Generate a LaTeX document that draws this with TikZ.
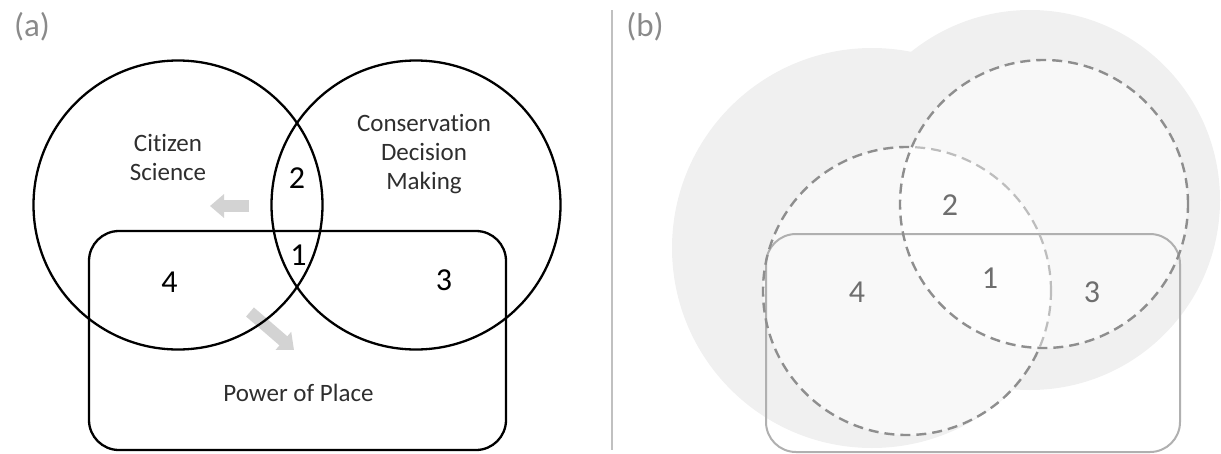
\documentclass[tikz,border=0pt]{standalone}
\usepackage{fontspec}
\setmainfont{Carlito}[Ligatures=NoCommon]
\usetikzlibrary{arrows.meta}
\definecolor{blobgray}{HTML}{F0F0F0}
\definecolor{innergray}{HTML}{F8F8F8}
\definecolor{lensgray}{HTML}{FDFDFD}
\definecolor{dashgray}{HTML}{8E8E8E}
\definecolor{lightdash}{HTML}{BDBDBD}
\definecolor{rectgray}{HTML}{B0B0B0}
\definecolor{labelgray}{HTML}{8A8A8A}
\definecolor{numgray}{HTML}{6E6E6E}
\definecolor{arrowgray}{HTML}{D3D3D3}
\definecolor{textdark}{HTML}{2E2E2E}
\tikzset{
  setline/.style={draw=black,line width=2.3pt},
  lbl/.style={font=\fontsize{25}{29}\selectfont,text=textdark,align=center,inner sep=0pt},
  numa/.style={font=\fontsize{32}{32}\selectfont,text=black,inner sep=0pt},
  numb/.style={font=\fontsize{32}{32}\selectfont,text=numgray,inner sep=0pt},
  panel/.style={font=\fontsize{33}{33}\selectfont,text=labelgray,inner sep=0pt},
  dashc/.style={draw=dashgray,line width=2.4pt,dash pattern=on 10pt off 6pt},
  lightdashc/.style={draw=lightdash,line width=2.2pt,dash pattern=on 10pt off 6pt},
  blockarrow/.style={draw=arrowgray,line width=12pt,-{Triangle[width=23pt,length=14pt]}}
}
\begin{document}
\begin{tikzpicture}[x=1pt,y=-1pt]
\useasboundingbox (0,0) rectangle (1221,453);
% ---------- panel (a) ----------
\node[panel] (pa) at (32,27) {(a)};
\coordinate (a1s) at (249,206);
\coordinate (a1e) at (210,206);
\coordinate (a2s) at (250,312);
\coordinate (a2e) at (294,350);
\draw[blockarrow] (a1s) -- (a1e);
\draw[blockarrow] (a2s) -- (a2e);
\draw[setline] (178,205) circle[radius=144.5pt];
\draw[setline] (416,205) circle[radius=144.5pt];
\draw[setline,rounded corners=30pt] (89,231) rectangle (506,450);
\node[lbl] (cs) at (168,157.5) {Citizen\\Science};
\node[lbl] (cdm) at (424,154) {Conservation\\Decision\\Making};
\node[lbl] (pop) at (298.5,393) {Power of Place};
\node[numa] (n2a) at (297,178) {2};
\node[numa] (n1a) at (298.5,255) {1};
\node[numa] (n4a) at (169.5,282) {4};
\node[numa] (n3a) at (444,280) {3};
% ---------- divider ----------
\coordinate (dtop) at (612,10);
\coordinate (dbot) at (612,450);
\draw[draw=rectgray!80,line width=1.6pt] (dtop) -- (dbot);
% ---------- panel (b) ----------
\node[panel] (pb) at (645,27) {(b)};
\fill[blobgray] (872,248) circle[radius=200pt];
\fill[blobgray] (1030,200) circle[radius=190pt];
\fill[innergray] (907,291) circle[radius=144pt];
\fill[innergray] (1044,204) circle[radius=144pt];
\begin{scope}
  \clip (907,291) circle[radius=144pt];
  \fill[lensgray] (1044,204) circle[radius=144pt];
\end{scope}
\draw[draw=rectgray,line width=2pt,rounded corners=30pt] (766,234) rectangle (1180,452);
% right dashed circle
\draw[dashc] (1044,204) circle[radius=144pt];
% left dashed circle: darker outside right circle, lighter inside
\begin{scope}[even odd rule]
  \clip (-10,-10) rectangle (1231,463) (1044,204) circle[radius=144pt];
  \draw[dashc] (907,291) circle[radius=144pt];
\end{scope}
\begin{scope}
  \clip (1044,204) circle[radius=144pt];
  \draw[lightdashc] (907,291) circle[radius=144pt];
\end{scope}
\node[numb] (n2b) at (950,205) {2};
\node[numb] (n1b) at (990,278) {1};
\node[numb] (n4b) at (857,292) {4};
\node[numb] (n3b) at (1092,292) {3};
\end{tikzpicture}
\end{document}
